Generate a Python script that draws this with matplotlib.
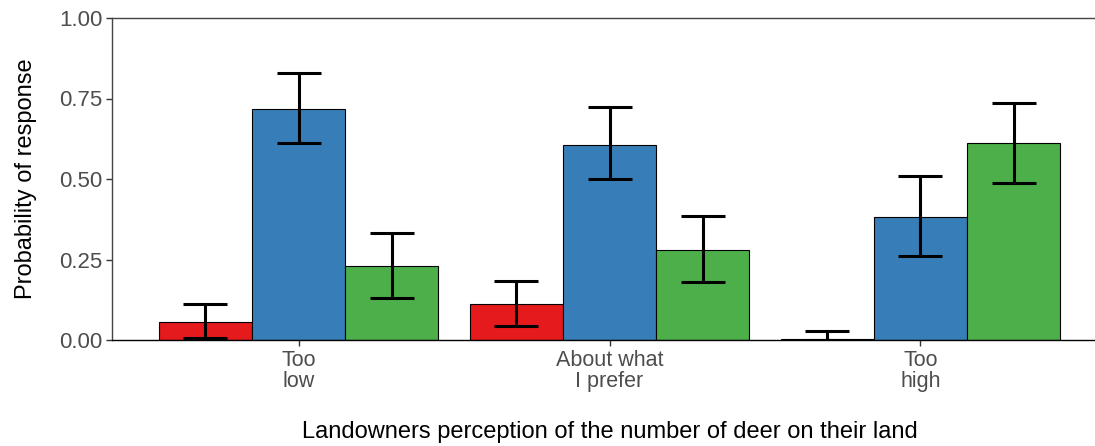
import numpy as np
import matplotlib
matplotlib.use('Agg')
import matplotlib.pyplot as plt

plt.rcParams['font.family'] = ['Liberation Sans', 'DejaVu Sans']

categories = ['Too\nlow', 'About what\nI prefer', 'Too\nhigh']
red_vals = [0.056, 0.112, 0.003]
red_lo = [0.005, 0.043, 0.0]
red_hi = [0.112, 0.183, 0.028]
blue_vals = [0.717, 0.606, 0.382]
blue_lo = [0.612, 0.500, 0.261]
blue_hi = [0.829, 0.724, 0.509]
green_vals = [0.230, 0.280, 0.612]
green_lo = [0.130, 0.180, 0.488]
green_hi = [0.332, 0.385, 0.736]

series = [(red_vals, red_lo, red_hi, '#E41A1C'),
          (blue_vals, blue_lo, blue_hi, '#377EB8'),
          (green_vals, green_lo, green_hi, '#4DAF4A')]

fig = plt.figure(figsize=(10.95, 4.46), dpi=100)
ax = fig.add_axes([112/1095, 1 - 340/446, (1107 - 112)/1095, (340 - 18)/446])

x = np.arange(1, len(categories) + 1)
w = 0.3
for k, (v, lo, hi, col) in enumerate(series):
    xs = x + (k - 1) * w
    ax.bar(xs, v, width=w, color=col, edgecolor='black', linewidth=0.8, zorder=2)
    v = np.array(v)
    yerr = [v - np.array(lo), np.array(hi) - v]
    ax.errorbar(xs, v, yerr=yerr, fmt='none', ecolor='black', elinewidth=2.2,
                capsize=15.5, capthick=2.2, zorder=3)

ax.set_xlim(0.4, 3.6)
ax.set_ylim(0, 1)
ax.set_xticks(x)
ax.set_xticklabels(categories, fontsize=15.5, color='#4D4D4D', linespacing=1.0)
ax.set_yticks([0, 0.25, 0.5, 0.75, 1.0])
ax.set_yticklabels(['0.00', '0.25', '0.50', '0.75', '1.00'], fontsize=16, color='#4D4D4D')
ax.tick_params(axis='both', length=4, width=1, color='#333333', pad=3)

ax.spines['right'].set_visible(False)
ax.spines['top'].set_color('#444444')
ax.spines['left'].set_color('#444444')
ax.spines['bottom'].set_color('black')
for s in ax.spines.values():
    s.set_linewidth(1)

ax.set_ylabel('Probability of response', fontsize=17, labelpad=16)
ax.set_xlabel('Landowners perception of the number of deer on their land', fontsize=17, labelpad=21)

fig.savefig('out.png', dpi=100)
